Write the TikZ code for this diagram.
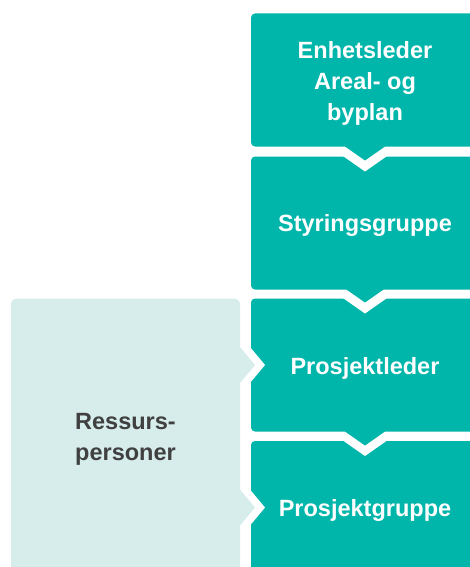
\documentclass[tikz,border=0pt]{standalone}
\usepackage{fontspec}
\setmainfont{Liberation Sans}
\definecolor{tealA}{RGB}{0,181,170}
\definecolor{lightA}{RGB}{214,237,236}
\definecolor{grayA}{RGB}{64,64,64}
\begin{document}
\begin{tikzpicture}[x=1pt,y=-1pt,
  tealbox/.style={fill=tealA,rounded corners=4pt},
  lightbox/.style={fill=lightA,rounded corners=6pt},
  cutout/.style={fill=white},
  tealtip/.style={fill=tealA},
  lighttip/.style={fill=lightA},
  lab/.style={font=\bfseries\fontsize{23.5}{31.3}\selectfont,text=white,inner sep=0pt,align=center},
  darklab/.style={lab,text=grayA}]
\useasboundingbox (0,0) rectangle (470,567);
\clip (0,0) rectangle (470,567);
% teal boxes
\foreach \t in {13.5,156.5,298.5,441}{
  \fill[tealbox] (251,\t) rectangle (490,\t+133);
}
% top notches
\foreach \t in {156.5,298.5,441}{
  \fill[cutout] (342.14,\t-1) -- (365,\t+15) -- (387.86,\t-1) -- cycle;
}
% left notches
\foreach \c in {365,507.5}{
  \fill[cutout] (249,\c-19.2) -- (265,\c) -- (249,\c+19.2) -- cycle;
}
% bottom chevrons
\foreach \b in {146.5,288.5,431.5}{
  \fill[tealtip] (345,\b-1) -- (345,\b) -- (365,\b+14) -- (385,\b) -- (385,\b-1) -- cycle;
}
% light box
\fill[lightbox] (11,298.5) rectangle (240,610);
\foreach \c in {365,507.5}{
  \fill[lighttip] (239,\c-19.2) -- (255,\c) -- (239,\c+19.2) -- cycle;
}
% labels
\node[lab,anchor=north] (enh) at (365,41) {Enhetsleder\\Areal- og\\byplan};
\node[lab,anchor=base] (sty) at (365,231.8) {Styringsgruppe};
\node[lab,anchor=base] (pl) at (365,374.5) {Prosjektleder};
\node[lab,anchor=base] (pg) at (365,516.5) {Prosjektgruppe};
\node[darklab,anchor=north] (res) at (125.5,413.2) {Ressurs-\\personer};
\end{tikzpicture}
\end{document}
